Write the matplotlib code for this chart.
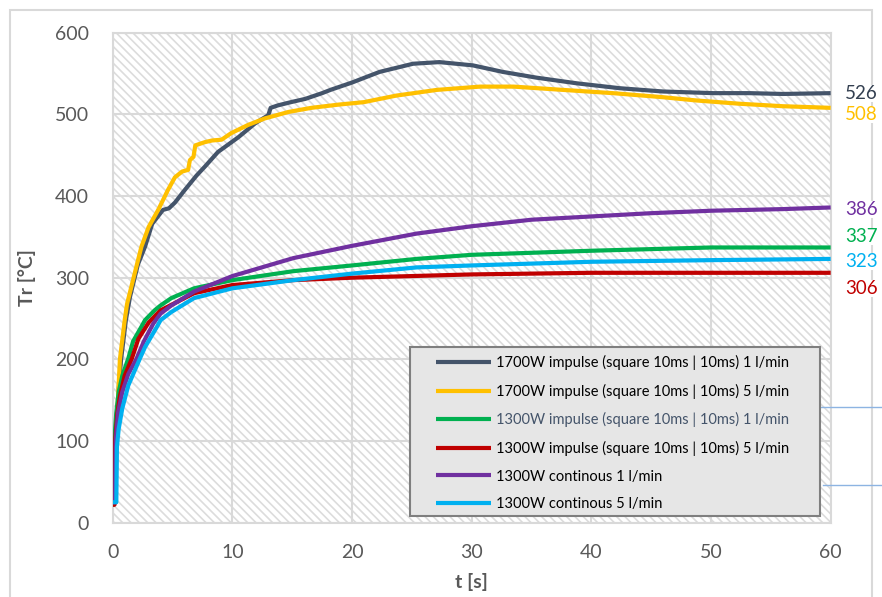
import matplotlib
matplotlib.use("Agg")
import matplotlib.pyplot as plt
from matplotlib.patches import Rectangle
from matplotlib.lines import Line2D

plt.rcParams["font.family"] = ["Lato", "DejaVu Sans"]
plt.rcParams["hatch.color"] = "#dcdcdc"
plt.rcParams["hatch.linewidth"] = 1.2

# --- data ---
t_1700_1 = [0, 0.25, 0.3, 0.5, 0.7, 1.1, 1.45, 2.1, 2.7, 3.3, 4.2, 4.7, 5.2, 6.0, 7.0, 7.7,
            8.8, 10.5, 11.9, 13.0, 13.2, 13.8, 14.9, 16.1, 17.5, 18.2, 20.0, 22.3, 25.1,
            27.3, 30.1, 32.6, 35.4, 38.8, 42.4, 46.0, 50.2, 53.2, 56.0, 60]
T_1700_1 = [25, 25, 100, 165, 200, 248, 277, 316, 338, 366, 383, 385, 392, 407, 425, 436,
            454, 472, 489, 499, 508, 511, 515, 519, 526, 530, 539, 552, 562,
            564, 560, 552, 545, 538, 532, 528, 526, 526, 525, 526]

t_1700_5 = [0, 0.2, 0.3, 0.6, 1.0, 1.2, 1.9, 2.4, 3.0, 3.8, 4.6, 5.2, 5.8, 6.3, 6.45, 6.75,
            6.9, 7.7, 8.3, 9.1, 9.9, 11.3, 12.7, 14.7, 16.6, 18.9, 21.0, 23.7, 27.1,
            30.7, 33.5, 37.6, 41.8, 46.0, 48.8, 52.4, 56.0, 60]
T_1700_5 = [25, 25, 110, 200, 248, 268, 309, 338, 362, 383, 407, 423, 430, 432, 444, 448,
            462, 466, 468, 469, 477, 487, 495, 503, 508, 512, 515, 523, 530,
            534, 534, 530, 526, 521, 517, 513, 510, 508]

t_1300_imp_1 = [0, 0.1, 0.13, 0.3, 0.5, 0.8, 1.3, 1.7, 2.4, 2.7, 3.5, 4.0, 4.9, 6.8, 10,
                15.1, 20, 25.4, 30, 40, 50, 60]
T_1300_imp_1 = [22, 22, 100, 135, 160, 180, 201, 222, 240, 248, 260, 266, 275, 287, 297,
                308, 315, 323, 328, 333, 337, 337]

t_1300_imp_5 = [0, 0.15, 0.2, 0.4, 0.6, 1.0, 1.6, 2.14, 3.0, 4.0, 6.8, 10, 15.1, 20, 30,
                40, 50, 60]
T_1300_imp_5 = [22, 22, 100, 135, 155, 180, 201, 225, 245, 260, 281, 291, 297, 300, 304,
                306, 306, 306]

t_1300_cont_1 = [0, 0.2, 0.25, 0.45, 0.8, 1.3, 2.0, 2.6, 3.4, 4.0, 4.9, 6.8, 10, 15.1, 20,
                 25.4, 30, 35, 40, 45, 50, 56, 60]
T_1300_cont_1 = [25, 25, 100, 135, 160, 182, 201, 222, 244, 256, 266, 283, 302, 324, 339,
                 354, 363, 371, 375, 379, 382, 384, 386]

t_1300_cont_5 = [0, 0.3, 0.35, 0.5, 0.8, 1.3, 2.27, 2.7, 3.7, 4.0, 4.9, 6.8, 10, 15.1, 20,
                 25.4, 30, 40, 50, 60]
T_1300_cont_5 = [25, 25, 93, 115, 140, 168, 201, 215, 240, 248, 258, 275, 287, 297, 305,
                 312.6, 315, 319.5, 321.5, 323]

labels = [
    "1700W impulse (square 10ms | 10ms) 1 l/min",
    "1700W impulse (square 10ms | 10ms) 5 l/min",
    "1300W impulse (square 10ms | 10ms) 1 l/min",
    "1300W impulse (square 10ms | 10ms) 5 l/min",
    "1300W continous 1 l/min",
    "1300W continous 5 l/min",
]
end_values = [526, 508, 337, 306, 386, 323]

# --- styles ---
colors = ["#44546a", "#ffc000", "#00b050", "#c00000", "#7030a0", "#00b0f0"]
end_label_colors = ["#333f50", "#ffc000", "#00b050", "#c00000", "#7030a0", "#00b0f0"]
end_label_shift = [0, -8, 14, -19, -2, -3.5]
legend_text_colors = ["black", "black", "#44546a", "black", "black", "black"]
grid_col = "#d9d9d9"
text_col = "#595959"

series = [
    (t_1700_1, T_1700_1), (t_1700_5, T_1700_5),
    (t_1300_imp_1, T_1300_imp_1), (t_1300_imp_5, T_1300_imp_5),
    (t_1300_cont_1, T_1300_cont_1), (t_1300_cont_5, T_1300_cont_5),
]

W, H = 882, 597
fig = plt.figure(figsize=(W / 100, H / 100), dpi=100)
ax = fig.add_axes([0.1278, 0.1245, 0.814, 0.8207])

# hatched plot area
ax.add_patch(Rectangle((0, 0), 1, 1, transform=ax.transAxes, facecolor="white",
                       edgecolor="#dcdcdc", hatch="\\\\\\\\", lw=0, zorder=0))

lines = []
for (t, T), c, lab in zip(series, colors, labels):
    ln, = ax.plot(t, T, color=c, lw=3, label=lab, solid_capstyle="butt", zorder=3)
    lines.append(ln)

for v, c, dy in zip(end_values, end_label_colors, end_label_shift):
    ax.text(61.2, v + dy, str(v), color=c, fontsize=13.5, va="center", ha="left",
            clip_on=False, bbox=dict(facecolor="white", edgecolor="none", pad=0))

ax.set_xlim(0, 60)
ax.set_ylim(0, 600)
ax.set_xticks(range(0, 61, 10))
ax.set_yticks(range(0, 601, 100))
ax.grid(True, color=grid_col, lw=1.5, zorder=1)
ax.set_axisbelow(True)
for s in ax.spines.values():
    s.set_color(grid_col)
    s.set_linewidth(1.5)
ax.tick_params(length=0, labelsize=14, colors=text_col)
ax.tick_params(axis="y", pad=17)
ax.tick_params(axis="x", pad=15)

ax.set_xlabel("t [s]", fontsize=14, fontweight="bold", color=text_col, labelpad=9)
ax.set_ylabel("Tr [°C]", fontsize=14, fontweight="bold", color=text_col, labelpad=14)

# legend frame drawn separately so its size matches the original box
fig.add_artist(Rectangle((410 / W, 1 - 516 / H), 410 / W, 169 / H,
                         transform=fig.transFigure, facecolor="#e6e6e6",
                         edgecolor="#7f7f7f", lw=1.5, zorder=4))
leg = fig.legend(handles=lines, labels=labels, loc="upper left",
                 bbox_to_anchor=(436 / W, 1 - 355 / H), fontsize=10.5,
                 frameon=False, handlelength=3.75, handletextpad=0.35,
                 labelspacing=0.93, borderpad=0, borderaxespad=0)
leg.set_zorder(5)
for txt, c in zip(leg.get_texts(), legend_text_colors):
    txt.set_color(c)

# outer chart border (bottom edge lies outside the picture)
fig.add_artist(Rectangle((10 / W, -0.05), 862 / W, 1.05 - 10 / H,
                         transform=fig.transFigure, fill=False, edgecolor=grid_col,
                         lw=1.5, zorder=-1))
# stray connector lines at the right edge
fig.add_artist(Line2D([820 / W, 1], [1 - 406.7 / H] * 2, transform=fig.transFigure,
                      color="#8db4e2", lw=1))
fig.add_artist(Line2D([823 / W, 1], [1 - 485 / H] * 2, transform=fig.transFigure,
                      color="#8db4e2", lw=1))

fig.savefig("out.png", dpi=100)
